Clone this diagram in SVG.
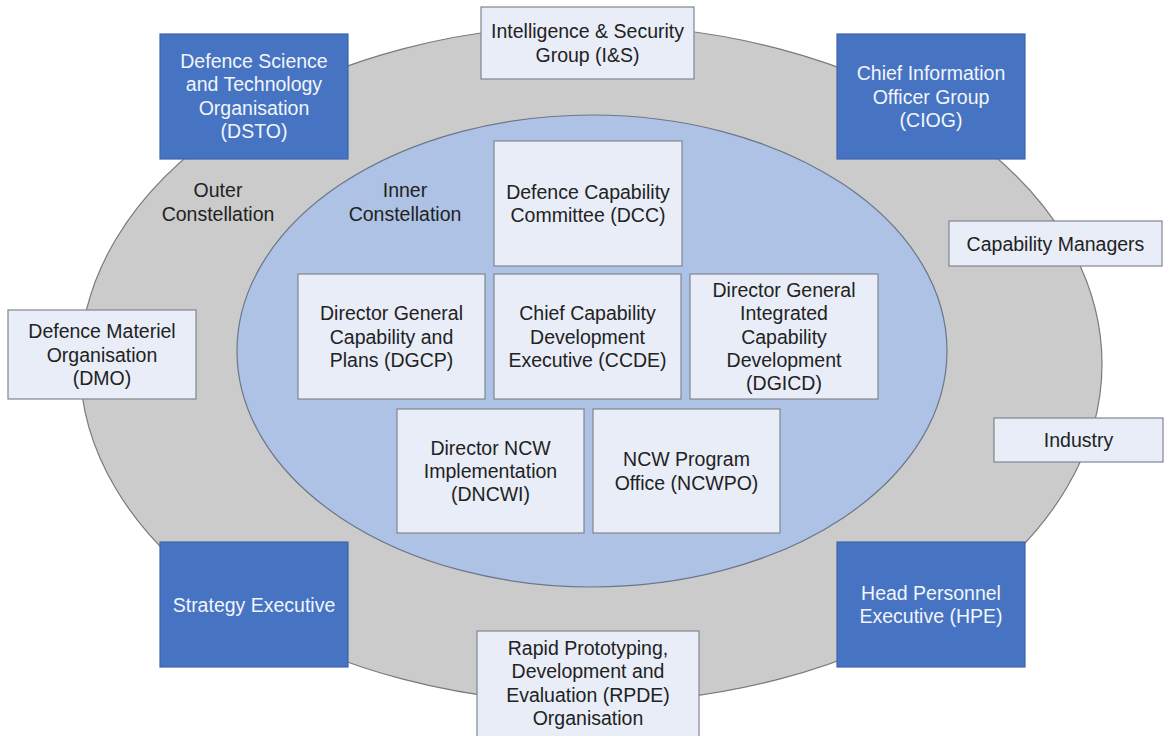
<svg xmlns="http://www.w3.org/2000/svg" width="1169" height="736" viewBox="0 0 1169 736">
<style>
text{font-family:"Liberation Sans",Arial,sans-serif;font-size:19.5px;text-anchor:middle;fill:#222222}
.dark rect{fill:#4673c2;stroke:#3c64aa;stroke-width:1.2}
.dark text{fill:#f2f5fb}
.light rect{fill:#e8edf8;stroke:#80868f;stroke-width:1.2}
.outer{fill:#cbcbcb;stroke:#7a7a7a;stroke-width:1.2}
.inner{fill:#adc2e4;stroke:#6b7789;stroke-width:1.2}
</style>
<rect width="1169" height="736" fill="#ffffff"/>
<g id="constellations">
<ellipse class="outer" cx="591" cy="364" rx="511" ry="339"/>
<ellipse class="inner" cx="592" cy="351" rx="355" ry="236"/>
<text x="218" y="197">Outer</text>
<text x="218" y="221">Constellation</text>
<text x="405" y="197">Inner</text>
<text x="405" y="221">Constellation</text>
</g>
<g id="connectors"/>
<g id="dsto" class="dark">
<rect x="160" y="34" width="188" height="125"/>
<text x="254" y="68">Defence Science</text>
<text x="254" y="91.3">and Technology</text>
<text x="254" y="114.6">Organisation</text>
<text x="254" y="137.9">(DSTO)</text>
</g>
<g id="is" class="light">
<rect x="481" y="7" width="213" height="72"/>
<text x="587.5" y="38.4">Intelligence &amp; Security</text>
<text x="587.5" y="61.7">Group (I&amp;S)</text>
</g>
<g id="ciog" class="dark">
<rect x="837" y="34" width="188" height="125"/>
<text x="931" y="80.2">Chief Information</text>
<text x="931" y="103.5">Officer Group</text>
<text x="931" y="126.8">(CIOG)</text>
</g>
<g id="capability-managers" class="light">
<rect x="949" y="221" width="213" height="45"/>
<text x="1055.5" y="250.5">Capability Managers</text>
</g>
<g id="dmo" class="light">
<rect x="8" y="310" width="188" height="89"/>
<text x="102" y="338.2">Defence Materiel</text>
<text x="102" y="361.5">Organisation</text>
<text x="102" y="384.8">(DMO)</text>
</g>
<g id="industry" class="light">
<rect x="994" y="418" width="169" height="44"/>
<text x="1078.5" y="447">Industry</text>
</g>
<g id="strategy" class="dark">
<rect x="160" y="542" width="188" height="125"/>
<text x="254" y="611.5">Strategy Executive</text>
</g>
<g id="hpe" class="dark">
<rect x="837" y="542" width="188" height="125"/>
<text x="931" y="599.8">Head Personnel</text>
<text x="931" y="623.1">Executive (HPE)</text>
</g>
<g id="rpde" class="light">
<rect x="477" y="631" width="222" height="112"/>
<text x="588" y="655">Rapid Prototyping,</text>
<text x="588" y="678.3">Development and</text>
<text x="588" y="701.6">Evaluation (RPDE)</text>
<text x="588" y="724.9">Organisation</text>
</g>
<g id="dcc" class="light">
<rect x="494" y="141" width="188" height="125"/>
<text x="588" y="198.9">Defence Capability</text>
<text x="588" y="222.2">Committee (DCC)</text>
</g>
<g id="dgcp" class="light">
<rect x="298" y="274" width="187" height="125"/>
<text x="391.5" y="320.2">Director General</text>
<text x="391.5" y="343.5">Capability and</text>
<text x="391.5" y="366.8">Plans (DGCP)</text>
</g>
<g id="ccde" class="light">
<rect x="494" y="274" width="187" height="125"/>
<text x="587.5" y="320.2">Chief Capability</text>
<text x="587.5" y="343.5">Development</text>
<text x="587.5" y="366.8">Executive (CCDE)</text>
</g>
<g id="dgicd" class="light">
<rect x="690" y="274" width="188" height="125"/>
<text x="784" y="296.9">Director General</text>
<text x="784" y="320.2">Integrated</text>
<text x="784" y="343.5">Capability</text>
<text x="784" y="366.8">Development</text>
<text x="784" y="390.1">(DGICD)</text>
</g>
<g id="dncwi" class="light">
<rect x="397" y="409" width="187" height="124"/>
<text x="490.5" y="454.7">Director NCW</text>
<text x="490.5" y="478">Implementation</text>
<text x="490.5" y="501.3">(DNCWI)</text>
</g>
<g id="ncwpo" class="light">
<rect x="593" y="409" width="187" height="124"/>
<text x="686.5" y="466.4">NCW Program</text>
<text x="686.5" y="489.7">Office (NCWPO)</text>
</g>
</svg>
